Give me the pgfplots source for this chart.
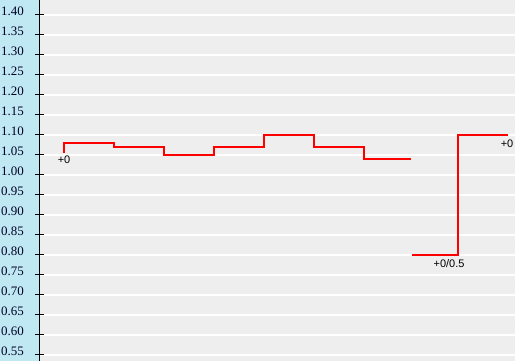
\documentclass[border=0pt]{standalone}
\usepackage{pgfplots}
\pgfplotsset{compat=1.18}
\usepackage{fontspec}
\setmainfont{Liberation Serif}
\newfontfamily\labfont{Liberation Sans}
\newfontfamily\tickfont{Liberation Serif}
\definecolor{pane}{RGB}{192,232,243}
\definecolor{plotbg}{RGB}{238,238,238}
\begin{document}
\begin{tikzpicture}
\fill[pane] (-39.5bp,0) rectangle (0,361bp);
\begin{axis}[
  at={(0,0)}, anchor=south west,
  scale only axis, width=475.5bp, height=361bp,
  xmin=39.5, xmax=515, ymin=0.535, ymax=1.4375,
  axis x line=none,
  axis y line*=left,
  axis line style={black, line width=1bp},
  axis background/.style={fill=plotbg},
  ytick={0.55,0.60,...,1.401},
  yticklabel style={font=\tickfont\fontsize{13}{14}\selectfont, text=black!85!blue, anchor=east, inner sep=0pt, xshift=-11.5bp, yshift=3.5bp,
    /pgf/number format/.cd, fixed, fixed zerofill, precision=2, assume math mode=true},
  /pgf/number format/assume math mode=true,
  tick align=center, major tick length=8bp,
  tick style={black, line width=1bp},
  ymajorgrids, grid style={white, line width=1.5bp},
  clip=false,
]
\addplot[red, line width=2bp, const plot, mark=none] coordinates {
  (64,1.055) (64,1.08) (114,1.07) (164,1.05) (214,1.07) (264,1.10) (314,1.07) (364,1.04) (411,1.04)
};
\addplot[red, line width=2bp, const plot, mark=none] coordinates {
  (412,0.80) (458,1.10) (508,1.10)
};
\node[font=\labfont\fontsize{11}{12}\selectfont, inner sep=0pt] at (axis cs:64,1.0375) {+0};
\node[font=\labfont\fontsize{11}{12}\selectfont, inner sep=0pt] at (axis cs:449,0.7775) {+0/0.5};
\node[font=\labfont\fontsize{11}{12}\selectfont, inner sep=0pt] at (axis cs:507,1.077) {+0};
\end{axis}
\pgfresetboundingbox
\path[use as bounding box] (-39.5bp,0) rectangle (475.5bp,361bp);
\end{tikzpicture}
\end{document}
